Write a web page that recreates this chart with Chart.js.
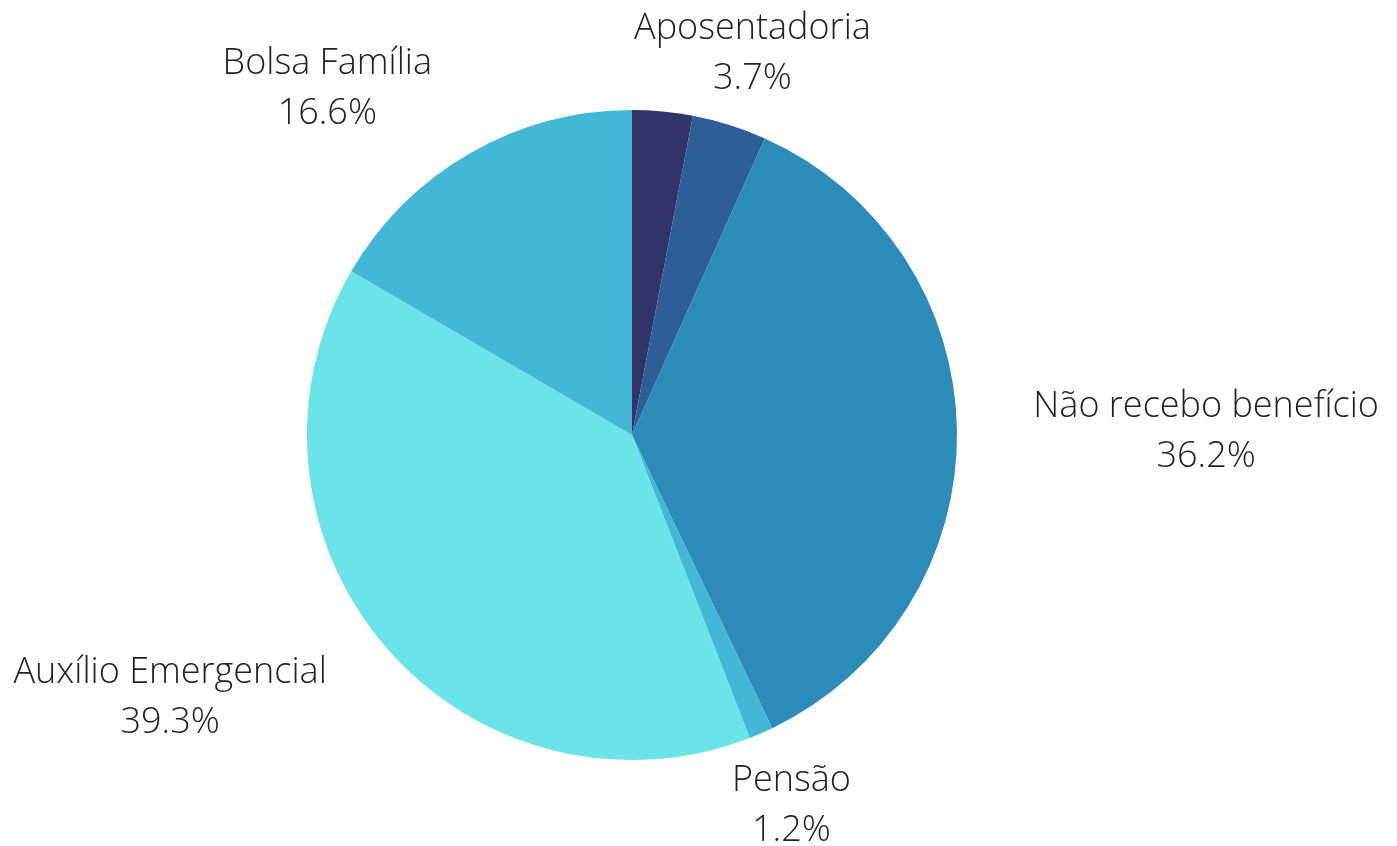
<!DOCTYPE html>
<html>
<head>
<meta charset="utf-8">
<script src="https://cdn.jsdelivr.net/npm/chart.js@4/dist/chart.umd.min.js"></script>
<style>
  html, body { margin: 0; padding: 0; background: #fff; }
  #wrap { width: 1397px; height: 846px; }
</style>
</head>
<body>
<div id="wrap"><canvas id="grafico-beneficios"></canvas></div>
<script>
const categorias = ["", "Aposentadoria", "Não recebo benefício", "Pensão", "Auxílio Emergencial", "Bolsa Família"]
const percentuais = [3.0, 3.7, 36.2, 1.2, 39.3, 16.6]
const rotulosVisiveis = [false, true, true, true, true, true]
const cores = ["#30346b", "#2d5f96", "#2d8bba", "#42b8d6", "#6ae4e8", "#42b8d6"]

// Rótulos externos (nome + percentual), desenhados à mão
const rotulosExternos = {
    id: "rotulosExternos",
    afterDatasetsDraw(chart) {
        const ctx = chart.ctx
        const meta = chart.getDatasetMeta(0)
        ctx.save()
        ctx.font = "300 36px 'Open Sans'"
        ctx.fillStyle = "#222"
        ctx.textBaseline = "middle"
        ctx.textAlign = "center"
        meta.data.forEach((arc, i) => {
            if (!rotulosVisiveis[i]) return
            const linhas = [categorias[i], percentuais[i].toFixed(1) + "%"]
            const largura = Math.max(...linhas.map(l => ctx.measureText(l).width))
            const meio = (arc.startAngle + arc.endAngle) / 2
            const ux = Math.cos(meio)
            const uy = Math.sin(meio)
            const r = arc.outerRadius * 1.235
            let x = arc.x + ux * r
            const y = arc.y + uy * r + 2
            // bloco centrado em cima/embaixo, encostado pela borda nos lados
            if (Math.abs(uy) <= 0.9) x += (ux > 0 ? 1 : -1) * largura / 2
            ctx.fillText(linhas[0], x, y - 25)
            ctx.fillText(linhas[1], x, y + 25)
        })
        ctx.restore()
    }
}

const data = {
    labels: categorias,
    datasets: [{
        data: percentuais,
        backgroundColor: cores,
        borderWidth: 0
    }]
}

const config = {
    type: "pie",
    data: data,
    options: {
        responsive: true,
        maintainAspectRatio: false,
        animation: false,
        layout: {
            padding: { top: 110, bottom: 86, left: 300, right: 433 }
        },
        plugins: {
            legend: { display: false },
            tooltip: { enabled: false }
        }
    },
    plugins: [rotulosExternos]
}

new Chart(document.querySelector("#grafico-beneficios"), config)
</script>
</body>
</html>
